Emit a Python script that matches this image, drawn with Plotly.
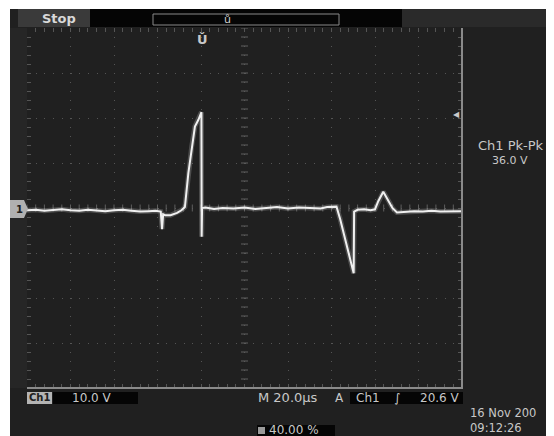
import numpy as np
import plotly.graph_objects as go

# ---------------- data ----------------
time_us = [0, 4, 8, 12, 16, 20, 24, 28, 32, 36, 40, 44, 48, 52, 56, 59, 61.5, 62.1, 62.6, 63.5,
           66, 69, 71, 72.6, 74.2, 75.7, 77.2, 78.8, 80.2, 80.3, 80.5, 82, 86, 90, 95, 100,
           105, 110, 115, 120, 125, 130, 135, 138, 142.3, 144, 146, 148, 150.2, 150.4, 152,
           155, 158, 160, 161.5, 163.8, 166, 168, 170.1, 174, 178, 182, 186, 190, 194, 198, 200]
ch1_volts = [-0.5, -0.4, -0.6, -0.5, -0.3, -0.5, -0.6, -0.4, -0.5, -0.7, -0.5, -0.4, -0.6, -0.8,
             -0.7, -0.6, -0.8, -4.7, -1.4, -1.6, -1.6, -1.1, -0.5, 0.2, 7.8, 13.6, 18.1, 19.6,
             21.3, -6.4, 0.0, 0.1, -0.2, 0.0, -0.1, 0.1, -0.2, 0.0, 0.2, -0.1, 0.1, 0.0, -0.1,
             0.2, 0.3, -2.5, -6.3, -10.0, -14.5, -0.8, -0.4, -0.3, -0.5, -0.3, 1.5, 3.6, 1.8,
             0.0, -1.0, -0.9, -0.7, -0.8, -0.6, -0.8, -0.7, -0.6, -0.7]

time_per_div = 20.0      # µs
volts_per_div = 10.0     # V
n_xdiv, n_ydiv = 10, 8

status_text = "Stop"
meas_label = "Ch1 Pk-Pk"
meas_value = "36.0 V"
ch_label = "Ch1"
ch_scale = "10.0 V"
timebase = "M 20.0µs"
trig_src = "Ch1"
trig_level = "20.6 V"
trig_pos = "40.00 %"
date_txt = "16 Nov 200"
time_txt = "09:12:26"

# ---------------- geometry helpers (page pixel -> paper) ----------------
PAGE_W, PAGE_H = 554, 436
OFF = 8                      # default body margin of the html page
W, H = PAGE_W - OFF, PAGE_H - OFF
L, R, T, B = 27, 462, 28, 388   # plot area in page pixels
def px(x):
    return (x - L) / (R - L)
def py(y):
    return (B - y) / (B - T)

FONT = "DejaVu Sans"
TXT = "#c8c8c8"
GRID = "#555555"

xmax = time_per_div * n_xdiv
ymax = volts_per_div * n_ydiv / 2

fig = go.Figure()

# center-cross tick marks of the graticule
cx = np.arange(0, xmax + 0.01, time_per_div / 5)
cy = np.arange(-ymax, ymax + 0.01, volts_per_div / 5)
fig.add_trace(go.Scatter(x=cx, y=np.zeros_like(cx), mode="markers",
                         marker=dict(symbol="line-ns", size=5, line=dict(width=1, color="#5e5e5e")),
                         hoverinfo="skip"))
fig.add_trace(go.Scatter(x=np.full_like(cy, xmax / 2), y=cy, mode="markers",
                         marker=dict(symbol="line-ew", size=5, line=dict(width=1, color="#5e5e5e")),
                         hoverinfo="skip"))

# waveform glow + core
fig.add_trace(go.Scatter(x=time_us, y=ch1_volts, mode="lines",
                         line=dict(color="rgba(255,255,255,0.2)", width=5), hoverinfo="skip"))
fig.add_trace(go.Scatter(x=time_us, y=ch1_volts, mode="lines",
                         line=dict(color="#f0f0f0", width=2), hoverinfo="skip"))

shapes = []
def rect(x0, y0, x1, y1, fill, line=None, layer="below"):
    shapes.append(dict(type="rect", xref="paper", yref="paper",
                       x0=px(x0), x1=px(x1), y0=py(y1), y1=py(y0),
                       fillcolor=fill, line=line or dict(width=0), layer=layer))

# scope screen background
rect(10, 9, 560, 440, "#202020")
rect(10, 28, 27, 388, "#262626")
# top bar
rect(18, 9, 90, 27, "#3a3a3a")
rect(90, 9, 152, 27, "#050505")
rect(152, 9, 340, 27, "#050505")
rect(340, 9, 402, 27, "#050505")
rect(402, 9, 560, 27, "#2a2a2a")
rect(153, 14, 339, 25, "rgba(0,0,0,0)", dict(color="#8a8a8a", width=1), layer="above")
# bottom boxes
rect(27, 392, 52, 404, "#b4b4b4")
rect(53, 392, 138, 404, "#050505")
rect(350, 392, 463, 404, "#050505")
rect(257, 425, 335, 440, "#050505")
rect(258, 427, 265, 434, "#9a9a9a", layer="above")
# solid frame bottom / right
shapes.append(dict(type="line", xref="paper", yref="paper", x0=0, x1=px(463), y0=0, y1=0,
                   line=dict(color="#8a8a8a", width=2), layer="above"))
shapes.append(dict(type="line", xref="paper", yref="paper", x0=1, x1=1, y0=0, y1=1,
                   line=dict(color="#8a8a8a", width=2), layer="above"))
# ground marker tab
gx0, gx1, gx2 = px(10), px(24), px(28)
gy0, gy1, gym = py(218), py(200), py(209)
shapes.append(dict(type="path", xref="paper", yref="paper",
                   path=f"M{gx0},{gy0} L{gx1},{gy0} L{gx2},{gym} L{gx1},{gy1} L{gx0},{gy1} Z",
                   fillcolor="#b0b0b0", line=dict(width=0), layer="above"))

ann = []
def text(x, y, s, size=13, color=TXT, anchor="left", bold=False):
    ann.append(dict(xref="paper", yref="paper", x=px(x), y=py(y), text=(f"<b>{s}</b>" if bold else s),
                    showarrow=False, xanchor=anchor, yanchor="middle", align="left",
                    font=dict(family=FONT, size=size, color=color)))

text(40, 18.5, status_text, 13, "#d8d8d8", bold=True)
text(227, 19, "ů", 11, "#d0d0d0", "center")
text(202, 40, "Ǔ", 13, "#c8c8c8", "center", bold=True)
text(19, 209, "1", 10, "#202020", "center", bold=True)
text(456, 114.5, "◀", 8, "#c8c8c8", "center")
text(476, 145, meas_label, 13)
text(510, 160, meas_value, 11, anchor="center")
text(39.5, 398, ch_label, 10, "#202020", "center", bold=True)
text(70, 398, ch_scale, 12)
text(256, 398, timebase, 13)
text(333, 398, "A", 12)
text(354, 398, trig_src, 12)
text(397, 398, "∫", 12, anchor="center")
text(462, 398, trig_level, 12, anchor="right")
text(267, 429.5, trig_pos, 12)
text(468, 420.5, f"{date_txt}<br>{time_txt}", 11.5)

fig.update_layout(
    width=W, height=H,
    margin=dict(l=L - OFF, r=PAGE_W - R, t=T - OFF, b=PAGE_H - B, pad=0),
    paper_bgcolor="white", plot_bgcolor="#000000",
    showlegend=False, hovermode=False,
    shapes=shapes, annotations=ann,
    xaxis=dict(range=[0, xmax], dtick=time_per_div, showgrid=True, gridcolor=GRID, gridwidth=1,
               griddash="1px,8px", zeroline=False, showticklabels=False,
               ticks="inside", ticklen=4, tickcolor=GRID, mirror="allticks", showline=False,
               minor=dict(dtick=time_per_div / 5, ticks="inside", ticklen=4, tickcolor=GRID, showgrid=False),
               fixedrange=True),
    yaxis=dict(range=[-ymax, ymax], dtick=volts_per_div, showgrid=True, gridcolor=GRID, gridwidth=1,
               griddash="1px,7.7px", zeroline=False, showticklabels=False,
               ticks="inside", ticklen=4, tickcolor=GRID, mirror="allticks", showline=False,
               minor=dict(dtick=volts_per_div / 5, ticks="inside", ticklen=4, tickcolor=GRID, showgrid=False),
               fixedrange=True),
)

fig.write_html("out.html", config={"displayModeBar": False})
